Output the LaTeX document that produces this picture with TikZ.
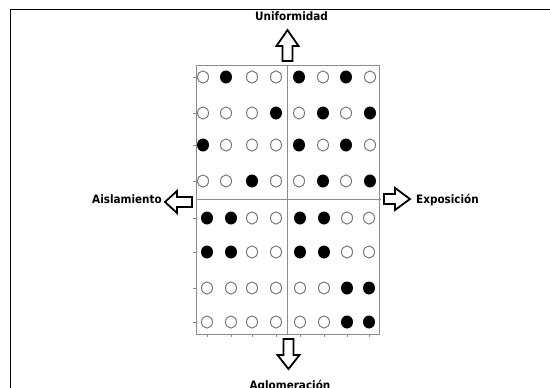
\documentclass[tikz,border=0pt]{standalone}
\usepackage{fontspec}
\setmainfont{DejaVu Sans}
\newfontfamily\lblfont{DejaVu Sans Condensed Bold}
\usetikzlibrary{shapes.geometric}
\definecolor{gridgray}{HTML}{8C8C8C}
\definecolor{dotgray}{HTML}{707070}
\begin{document}
\begin{tikzpicture}[x=1pt,y=-1pt,
  lbl/.style={font=\lblfont\fontsize{11.6}{13}\selectfont, inner sep=0pt},
  gridline/.style={draw=gridgray, line width=0.8pt},
  tickline/.style={draw=gridgray, line width=0.6pt},
  opendot/.style={ellipse, draw=dotgray, line width=0.9pt, fill=white, minimum width=11pt, minimum height=12.2pt, inner sep=0pt},
  fulldot/.style={ellipse, fill=black, minimum width=12pt, minimum height=13pt, inner sep=0pt},
  blockarrow/.style={draw=black, line width=1.8pt, fill=white, line join=miter},
  frameline/.style={draw=black, line width=1.8pt, line join=miter}]
\useasboundingbox (0,0) rectangle (550,388);
% open frame
\draw[frameline] (10.5,390) -- (10.5,9.5) -- (552,9.5);
% grid box
\coordinate (boxtl) at (196,65);
\coordinate (boxbr) at (379,334);
\draw[gridline] (boxtl) rectangle (boxbr);
\draw[gridline] (287.5,65) -- (287.5,334);
\draw[gridline] (196,199) -- (381,199);
% ticks
\foreach \ty in {77,113,145,181,218,252,288,322}
  \draw[tickline] (193,\ty) -- (196,\ty);
\foreach \tx in {207,231,252,276,300,324,347,369}
  \draw[tickline] (\tx,334) -- (\tx,337);
% dots
\foreach \ry/\pat [count=\r] in {
  77/{0,1,0,0,1,0,1,0},
  113/{0,0,0,1,0,1,0,1},
  145/{1,0,0,0,1,0,1,0},
  181/{0,0,1,0,0,1,0,1},
  218/{1,1,0,0,1,1,0,0},
  252/{1,1,0,0,1,1,0,0},
  288/{0,0,0,0,0,0,1,1},
  322/{0,0,0,0,0,0,1,1}}{
  \foreach \v [count=\c] in \pat {
    \ifnum\r<5
      \pgfmathsetmacro{\cx}{{203,226,252,276,299,323,346,370}[\c-1]}
    \else
      \pgfmathsetmacro{\cx}{{207,231,252,276,300,324,347,369}[\c-1]}
    \fi
    \ifnum\v=1
      \node[fulldot] (d\r-\c) at (\cx,\ry) {};
    \else
      \node[opendot] (d\r-\c) at (\cx,\ry) {};
    \fi
  }
}
% block arrows
\draw[blockarrow] (282.5,61) -- (282.5,46) -- (276.5,46) -- (287.5,30) -- (298.5,46) -- (292.5,46) -- (292.5,61) -- cycle;
\draw[blockarrow] (192,197) -- (177,197) -- (177,191) -- (165,202) -- (177,213) -- (177,207) -- (192,207) -- cycle;
\draw[blockarrow] (384,194) -- (395,194) -- (395,188) -- (410,199) -- (395,210) -- (395,204) -- (384,204) -- cycle;
\draw[blockarrow] (283.5,339) -- (293.5,339) -- (293.5,355) -- (299.5,355) -- (288.5,369) -- (277.5,355) -- (283.5,355) -- cycle;
% labels
\node[lbl, anchor=base] (uni) at (291.5,20.5) {Uniformidad};
\node[lbl, anchor=base east] (ais) at (162,203.5) {Aislamiento};
\node[lbl, anchor=base west] (expo) at (416,203.5) {Exposición};
\node[lbl, anchor=base] (aglo) at (290,389) {Aglomeración};
\end{tikzpicture}
\end{document}
